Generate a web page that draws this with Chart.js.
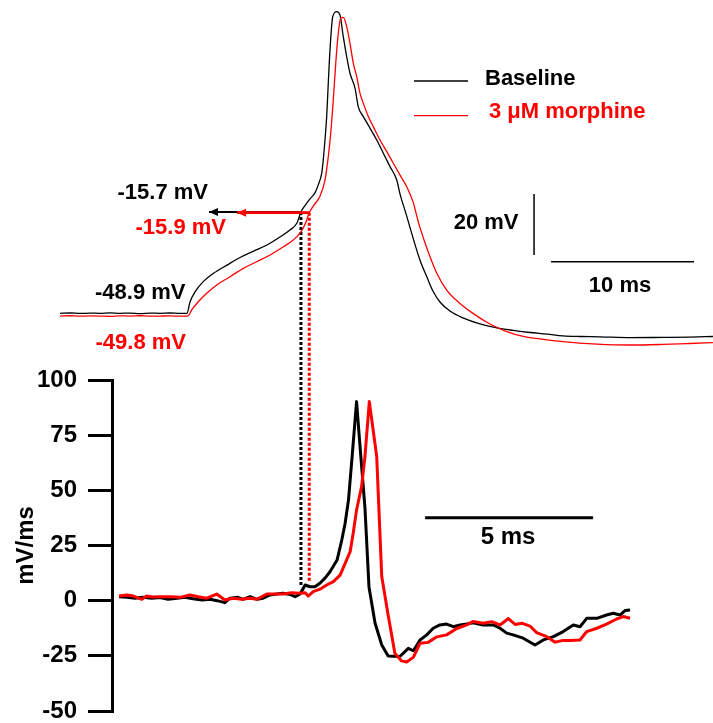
<!DOCTYPE html>
<html>
<head>
<meta charset="utf-8">
<title>AP threshold, baseline vs morphine</title>
<script src="https://cdn.jsdelivr.net/npm/chart.js@4.4.1/dist/chart.umd.min.js"></script>
<style>
  html, body { margin: 0; padding: 0; background: #fff; }
  canvas { display: block; }
</style>
</head>
<body>
<canvas id="ap-chart" width="713" height="723"></canvas>
<script>
// --- Membrane potential (ms, mV) ---
const vmTimeBaseline = [0, 0.7, 1.4, 2.1, 2.8, 3.5, 4.2, 4.9, 5.6, 6.3, 7.0, 7.7, 8.4, 8.88,
  9.09, 9.44, 10.0, 10.7, 11.68, 12.59, 13.5, 14.48, 15.38, 16.08, 16.57,
  16.85, 17.13, 17.48, 17.83, 18.06, 18.30, 18.41, 18.53, 18.65, 18.76, 18.88, 19.07, 19.35,
  19.58, 19.81, 20.05, 20.28, 20.63, 20.86, 21.21, 21.68, 22.15, 22.61, 23.08, 23.55,
  23.78, 24.20, 24.69, 25.17, 25.66, 26.08, 26.57, 27.27, 28.18, 29.37,
  30.56, 31.68, 32.87, 34.06, 35.17, 36.36, 37.76, 39.86, 42.17, 44.06, 45.66];
const vmBaseline = [-48.9, -48.8, -48.95, -48.85, -48.9, -48.75, -48.9, -48.85, -49.0, -48.85, -48.9, -48.8, -48.95, -48.9,
  -45.2, -41.9, -38.6, -35.9, -33.1, -30.6, -28.6, -26.5, -23.9, -21.6, -19.3,
  -15.7, -13.6, -11.4, -9.4, -6.8, -3.0, 1.4, 7.9, 15.6, 26.5, 37.4, 48.3, 50.0,
  48.9, 41.8, 35.2, 29.8, 24.9, 18.8, 15.6, 11.8, 7.9, 3.6, -0.8, -5.2,
  -9.8, -16.3, -24.2, -31.4, -37.0, -41.6, -45.2, -48.15, -50.4, -52.4,
  -53.7, -54.5, -55.2, -55.7, -56.3, -56.5, -56.6, -56.9, -56.8, -56.7, -56.5];

const vmTimeMorphine = [0, 0.7, 1.4, 2.1, 2.8, 3.5, 4.2, 4.9, 5.6, 6.3, 7.0, 7.7, 8.4, 8.95,
  9.21, 9.67, 10.26, 10.96, 11.89, 12.82, 13.75, 14.69, 15.62, 16.31, 16.90, 17.20,
  17.43, 17.76, 18.18, 18.53, 18.76, 18.93, 19.11, 19.30, 19.46, 19.63, 19.81,
  20.05, 20.28, 20.51, 20.75, 20.98, 21.21, 21.56, 21.91, 22.38, 22.85, 23.31, 23.78, 24.25, 24.71,
  25.06, 25.41, 25.87, 26.34, 27.04, 27.97, 28.90, 30.07, 31.24, 32.40, 33.57, 35.17, 37.55, 39.86, 42.17, 44.06, 45.66];
const vmMorphine = [-49.8, -49.7, -49.85, -49.75, -49.8, -49.9, -49.75, -49.8, -49.7, -49.85, -49.8, -49.75, -49.85, -49.8,
  -47.8, -45.1, -42.3, -39.6, -36.9, -34.15, -32.0, -29.8, -27.1, -24.9, -21.9, -19.0,
  -15.9, -13.4, -10.5, -5.2, 2.4, 10.1, 21.0, 34.2, 42.9, 47.8, 48.1,
  45.1, 39.6, 33.1, 28.7, 23.2, 20.0, 15.6, 12.3, 7.9, 4.1, 0.3, -3.6, -7.4, -12.7,
  -19.0, -24.2, -30.3, -35.7, -41.3, -45.7, -49.0, -52.4, -54.9, -56.5, -57.3, -58.2, -59.0, -59.3, -59.1, -58.8, -58.5];

// --- dV/dt (ms, mV/ms) ---
const rateTimeBaseline = [0, 0.24, 0.48, 0.71, 0.98, 1.22, 1.46, 1.73, 1.96, 2.20, 2.47, 2.71, 2.92, 3.15, 3.30,
  3.54, 3.69, 3.90, 4.11, 4.29, 4.49, 4.70, 4.88, 5.09, 5.24, 5.39, 5.54, 5.68, 5.83, 5.98,
  6.13, 6.28, 6.49, 6.63, 6.73, 6.83, 6.93, 7.01, 7.07, 7.17, 7.32, 7.44, 7.62, 7.82, 8.01,
  8.36, 8.61, 8.76, 8.96, 9.16, 9.35, 9.55, 9.75, 9.95, 10.15, 10.35, 10.54, 10.84, 11.14, 11.34,
  11.54, 11.73, 12.03, 12.38, 12.63, 12.93, 13.22, 13.52, 13.72, 13.92, 14.22, 14.51, 14.71, 14.91, 15.06, 15.21];
const rateBaseline = [1.8, 1.5, 1.1, 1.5, 1.1, 1.4, 0.6, 1.1, 1.5, 0.9, 0.3, 0.6, 0, -0.9, 1.1,
  1.5, 0.6, 1.8, 0.6, 1.1, 2.6, 3.0, 3.4, 2.8, 1.8, 3.0, 7.1, 6.3, 6.3, 7.9,
  10.2, 13.1, 18.4, 27.5, 35.1, 45.6, 63.8, 78.9, 90.2, 70.6, 42.1, 6.2, -10.1, -20.1, -25.1,
  -25.3, -21.6, -22.7, -17.8, -15.5, -12.5, -11.0, -10.6, -11.8, -11.0, -10.6, -10.0, -11.0, -11.0, -12.5,
  -14.7, -15.5, -17.0, -20.1, -17.8, -16.3, -14.0, -11.0, -11.8, -8.0, -8.0, -6.5, -5.7, -6.5, -4.5, -4.2];

const rateTimeMorphine = [0, 0.23, 0.43, 0.68, 0.82, 1.01, 1.22, 1.52, 1.82, 2.11, 2.36, 2.61, 2.91, 3.15, 3.40,
  3.65, 3.90, 4.10, 4.40, 4.69, 4.89, 5.14, 5.34, 5.54, 5.63, 5.78, 5.98, 6.18, 6.38, 6.58,
  6.73, 6.88, 6.97, 7.07, 7.22, 7.32, 7.45, 7.67, 7.82, 8.01, 8.21, 8.41, 8.56, 8.76, 8.96,
  9.20, 9.46, 9.75, 10.05, 10.35, 10.54, 10.84, 11.09, 11.34, 11.59, 11.79, 11.99, 12.23, 12.43, 12.73,
  12.98, 13.22, 13.42, 13.72, 13.92, 14.22, 14.51, 14.81, 15.01, 15.21];
const rateMorphine = [2.1, 2.6, 2.1, 0.6, 2.1, 1.7, 1.8, 1.8, 1.5, 2.6, 1.8, 1.1, 3.0, 0.3, 1.1,
  0.6, 1.1, 0.6, 3.0, 3.0, 3.0, 3.6, 3.4, 3.6, 2.1, 4.1, 5.2, 7.1, 8.6, 11.6,
  16.9, 22.2, 30.5, 41.1, 51.7, 65.3, 90.2, 65.3, 10.9, -6.5, -23.8, -27.3, -27.8, -25.7, -19.3,
  -18.9, -16.4, -15.5, -12.6, -11.0, -9.4, -10.2, -9.5, -11.0, -8.1, -10.8, -10.2, -11.5, -14.5, -16.3,
  -18.8, -18.0, -18.1, -17.8, -14.0, -12.5, -10.6, -8.3, -7.2, -8.0];

const rateTicks = [-50, -25, 0, 25, 50, 75, 100];

// threshold read-outs, [baseline, morphine]
const thresholdTime = [16.85, 17.43];   // ms, Vm time base
const thresholdVm = [-15.7, -15.9];
const thresholdRate = [7, 8.5];         // where the drop line meets dV/dt
const arrowTipTime = [10.42, 12.38];
const restingVm = [-48.9, -49.8];

// scale bars
const vmBarTime = 33.15;
const vmBarRange = [-29.8, -9.8];       // 20 mV
const vmTimeBar = [34.34, 44.34];       // 10 ms
const vmTimeBarLevel = -32.0;
const rateTimeBar = [9.11, 14.11];      // 5 ms
const rateTimeBarLevel = 37.6;

const seriesNames = ['Baseline', '3 \u03bcM morphine'];
const BLACK = '#000000';
const RED = '#ff0000';
const traceColors = [BLACK, RED];
const FONT = "'Liberation Sans', Arial, sans-serif";

// Layout of the drawing surface in pixels
const AREA = { left: 112, right: 713, top: 380, bottom: 711 };
const VM_ORIGIN_X = 60, VM_PX_PER_MS = 14.3;
const VM_REF_Y = 313.3, VM_PX_PER_MV = 3.05;
const RATE_ORIGIN_X = 119, RATE_PX_PER_MS = 33.6;
const HEAD_LEN = 9, HEAD_HALF = 4;

function toPoints(xs, ys) {
  return xs.map((x, i) => ({ x, y: ys[i] }));
}

function trace(label, xs, ys, color, axes, width, order, smooth) {
  return {
    label,
    data: toPoints(xs, ys),
    borderColor: color,
    borderWidth: width,
    borderJoinStyle: 'round',
    pointRadius: 0,
    clip: false,
    order,
    cubicInterpolationMode: smooth ? 'monotone' : 'default',
    xAxisID: axes[0],
    yAxisID: axes[1],
  };
}

function segment(points, color, width, order, axes) {
  return {
    data: points,
    borderColor: color,
    borderWidth: width,
    pointRadius: 0,
    clip: false,
    order,
    xAxisID: axes[0],
    yAxisID: axes[1],
  };
}

// shaft of a threshold arrow; the head is added by the plugin below
function arrowShaft(i, width, order) {
  return segment(
    [{ x: thresholdTime[i], y: thresholdVm[i] }, { x: arrowTipTime[i], y: thresholdVm[i] }],
    traceColors[i], width, order, ['xv', 'yv']);
}

const annotations = [
  { text: `${thresholdVm[0].toFixed(1)} mV`, x: 208, y: 192.5, align: 'right', color: BLACK, size: 22 },
  { text: `${thresholdVm[1].toFixed(1)} mV`, x: 226, y: 227.5, align: 'right', color: RED, size: 22 },
  { text: `${restingVm[0].toFixed(1)} mV`, x: 185.5, y: 292.8, align: 'right', color: BLACK, size: 22 },
  { text: `${restingVm[1].toFixed(1)} mV`, x: 186, y: 342.5, align: 'right', color: RED, size: 22 },
  { text: '20 mV', x: 518.5, y: 223, align: 'right', color: BLACK, size: 22 },
  { text: '10 ms', x: 620, y: 286, align: 'center', color: BLACK, size: 22 },
  { text: '5 ms', x: 508, y: 537, align: 'center', color: BLACK, size: 24 },
];

const legendItems = [
  { x: 414, y: 81, textX: 485, textY: 78.5 },
  { x: 414, y: 115.7, textX: 489, textY: 111.7 },
];

const thresholdMarks = {
  id: 'thresholdMarks',
  beforeDatasetsDraw(chart) {
    const { ctx, scales } = chart;
    ctx.save();
    ctx.lineWidth = 3;
    ctx.setLineDash([3, 2]);
    thresholdTime.forEach((t, i) => {
      const x = scales.xv.getPixelForValue(t);
      ctx.strokeStyle = traceColors[i];
      ctx.beginPath();
      ctx.moveTo(x, scales.yv.getPixelForValue(thresholdVm[i]));
      ctx.lineTo(x, scales.yd.getPixelForValue(thresholdRate[i]));
      ctx.stroke();
    });
    ctx.restore();
  },
  afterDatasetsDraw(chart) {
    const { ctx, scales } = chart;
    ctx.save();
    // arrow heads, black first so red sits on top
    thresholdTime.forEach((t, i) => {
      const tipX = scales.xv.getPixelForValue(arrowTipTime[i]);
      const y = scales.yv.getPixelForValue(thresholdVm[i]);
      ctx.fillStyle = traceColors[i];
      ctx.beginPath();
      ctx.moveTo(tipX, y);
      ctx.lineTo(tipX + HEAD_LEN, y - HEAD_HALF);
      ctx.lineTo(tipX + HEAD_LEN, y + HEAD_HALF);
      ctx.closePath();
      ctx.fill();
    });

    ctx.textBaseline = 'middle';
    annotations.forEach(a => {
      ctx.font = `bold ${a.size}px ${FONT}`;
      ctx.fillStyle = a.color;
      ctx.textAlign = a.align;
      ctx.fillText(a.text, a.x, a.y);
    });
    // legend
    legendItems.forEach((item, i) => {
      ctx.strokeStyle = traceColors[i];
      ctx.lineWidth = 1.3;
      ctx.beginPath();
      ctx.moveTo(item.x, item.y);
      ctx.lineTo(item.x + 54, item.y);
      ctx.stroke();
      ctx.font = `bold 22px ${FONT}`;
      ctx.fillStyle = traceColors[i];
      ctx.textAlign = 'left';
      ctx.fillText(seriesNames[i], item.textX, item.textY);
    });
    ctx.restore();
  },
};

const datasets = [
  trace(seriesNames[1], rateTimeMorphine, rateMorphine, RED, ['xd', 'yd'], 3, 1, false),
  trace(seriesNames[0], rateTimeBaseline, rateBaseline, BLACK, ['xd', 'yd'], 3, 2, false),
  arrowShaft(1, 2.6, 3),
  arrowShaft(0, 2, 4),
  trace(seriesNames[1], vmTimeMorphine, vmMorphine, RED, ['xv', 'yv'], 1.3, 5, true),
  trace(seriesNames[0], vmTimeBaseline, vmBaseline, BLACK, ['xv', 'yv'], 1.3, 6, true),
  segment([{ x: vmBarTime, y: vmBarRange[0] }, { x: vmBarTime, y: vmBarRange[1] }], BLACK, 1.5, 7, ['xv', 'yv']),
  segment([{ x: vmTimeBar[0], y: vmTimeBarLevel }, { x: vmTimeBar[1], y: vmTimeBarLevel }], BLACK, 1.5, 7, ['xv', 'yv']),
  segment([{ x: rateTimeBar[0], y: rateTimeBarLevel }, { x: rateTimeBar[1], y: rateTimeBarLevel }], BLACK, 3, 7, ['xd', 'yd']),
];

new Chart(document.getElementById('ap-chart'), {
  type: 'line',
  data: { datasets },
  options: {
    responsive: false,
    devicePixelRatio: 1,
    animation: false,
    events: [],
    layout: { padding: { top: AREA.top, bottom: 723 - AREA.bottom, left: 0, right: 0 } },
    plugins: { legend: { display: false }, tooltip: { enabled: false } },
    scales: {
      xv: {
        type: 'linear', display: false, bounds: 'data',
        afterDataLimits: (s) => {
          s.min = (AREA.left - VM_ORIGIN_X) / VM_PX_PER_MS;
          s.max = (AREA.right - VM_ORIGIN_X) / VM_PX_PER_MS;
        },
      },
      yv: {
        type: 'linear', display: false, bounds: 'data',
        min: restingVm[0] - (AREA.bottom - VM_REF_Y) / VM_PX_PER_MV,
        max: restingVm[0] - (AREA.top - VM_REF_Y) / VM_PX_PER_MV,
      },
      xd: {
        type: 'linear', display: false, bounds: 'data',
        min: (AREA.left - RATE_ORIGIN_X) / RATE_PX_PER_MS,
        max: (AREA.right - RATE_ORIGIN_X) / RATE_PX_PER_MS,
      },
      yd: {
        type: 'linear', position: 'left', min: -50, max: 100,
        afterBuildTicks: (s) => { s.ticks = rateTicks.map(value => ({ value })); },
        afterFit: (s) => { s.width = AREA.left; s.paddingTop = 0; s.paddingBottom = 0; },
        grid: { drawOnChartArea: false, drawTicks: true, tickLength: 24, lineWidth: 3, color: BLACK },
        border: { display: true, width: 3, color: BLACK },
        ticks: { autoSkip: false, padding: 11, color: BLACK, font: { family: FONT, size: 24, weight: 'bold' } },
        title: {
          display: true, text: 'mV/ms', color: BLACK,
          font: { family: FONT, size: 24, weight: 'bold' },
          padding: { top: 12, bottom: 0 },
        },
      },
    },
  },
  plugins: [thresholdMarks],
});
</script>
</body>
</html>
